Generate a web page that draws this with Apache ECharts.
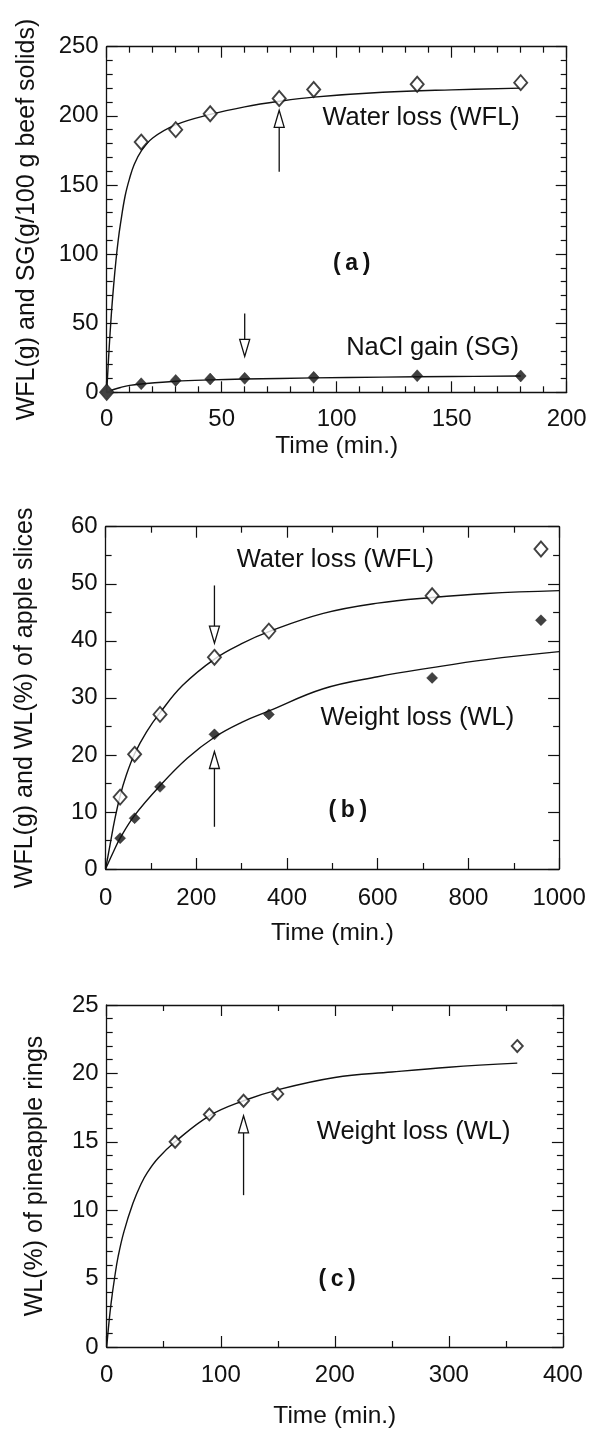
<!DOCTYPE html>
<html>
<head>
<meta charset="utf-8">
<script src="https://cdn.jsdelivr.net/npm/echarts@6/dist/echarts.min.js"></script>
<style>
  html, body { margin: 0; padding: 0; background: #fff; }
  #chart { width: 595px; height: 1430px; }
</style>
</head>
<body>
<div id="chart"></div>
<script>
// ---- Panel (a): beef, water loss and NaCl gain ----
const aWflTime = [0, 15, 30, 45, 75, 90, 135, 180];
const aWfl     = [0, 181, 190, 201.5, 212.5, 219, 222.8, 224];
const aSgTime  = [0, 15, 30, 45, 60, 90, 135, 180];
const aSg      = [0, 6.2, 8.6, 9.6, 10.1, 10.8, 12, 11.8];
// fitted curves
const aWflFitTime = [0, 1, 2, 3, 4, 5, 6, 8, 10, 12, 15, 20, 30, 45, 60, 75, 90, 120, 150, 180];
const aWflFit     = [0, 30, 56, 77, 95, 110, 122, 142, 155, 165, 174.5, 184, 193.5, 201, 206.5, 210.5, 213.5, 217, 218.8, 220];
const aSgFitTime  = [0, 3, 6, 10, 15, 30, 45, 60, 90, 120, 150, 180];
const aSgFit      = [0, 2, 3.5, 5, 6, 8, 9, 9.6, 10.4, 11, 11.4, 11.8];

// ---- Panel (b): apple slices ----
const bTime = [32, 64, 120, 240, 360, 720, 960];
const bWfl  = [12.6, 20.1, 27.1, 37.1, 41.7, 47.9, 56.1];
const bWl   = [5.4, 8.9, 14.4, 23.6, 27.1, 33.5, 43.6];
const bWflFitTime = [0, 10, 20, 32, 45, 64, 90, 120, 170, 240, 300, 360, 480, 600, 720, 840, 1000];
const bWflFit     = [0, 4.3, 8.6, 12.8, 16.3, 20.2, 24, 27.4, 32.2, 36.8, 39.5, 41.6, 44.8, 46.6, 47.6, 48.3, 48.8];
const bWlFitTime  = [0, 16, 32, 64, 120, 180, 240, 300, 360, 480, 600, 720, 840, 1000];
const bWlFit      = [0, 2.8, 5.4, 9.4, 14.6, 19.4, 23.1, 25.7, 27.7, 31.6, 33.7, 35.3, 36.7, 38.1];

// ---- Panel (c): pineapple rings ----
const cTime = [60, 90, 120, 150, 360];
const cWl   = [15, 17, 18, 18.5, 22];
const cWlFitTime = [0, 2, 4, 7, 10, 15, 23, 30, 36, 45, 60, 90, 120, 150, 200, 250, 300, 360];
const cWlFit     = [0, 1.8, 3.3, 5.1, 6.6, 8.4, 10.5, 11.9, 12.8, 13.8, 15.0, 16.9, 18.0, 18.8, 19.7, 20.1, 20.45, 20.75];

// equilibrium arrows: [time, tail value, tip value]
const aArrows = [[75, 159.5, 204], [60, 57, 26]];
const bArrows = [[240, 49.7, 39.6], [240, 7.4, 20.6]];
const cArrows = [[120, 11.1, 16.9]];

// in-plot captions: [time, value]
const aNotePos = [[136.7, 198.4], [141.7, 31.8], [106.5, 93.3]];
const aNoteTxt = ['Water loss (WFL)', 'NaCl gain (SG)', '(a)'];
const bNotePos = [[506.7, 54.2], [687.3, 26.4], [534, 10.3]];
const bNoteTxt = ['Water loss (WFL)', 'Weight loss (WL)', '(b)'];
const cNotePos = [[269.1, 15.75], [202, 4.93]];
const cNoteTxt = ['Weight loss (WL)', '(c)'];

const INK = '#111';
const FONT = 'Liberation Sans, Arial, Helvetica, sans-serif';

const zip = (xs, ys) => xs.map((x, i) => [x, ys[i]]);
const plain = v => String(v);

function xAxes(grid, max, interval, minorSplit, nameGap, labelMargin) {
  const common = {
    type: 'value', gridIndex: grid, min: 0, max: max, interval: interval,
    splitLine: { show: false },
    axisLine: { show: true, onZero: false, lineStyle: { color: INK, width: 1.3 } },
    axisTick: { show: true, inside: true, length: 11, lineStyle: { color: INK, width: 1.2 } },
    minorTick: { show: true, splitNumber: minorSplit, length: 6, lineStyle: { color: INK, width: 1.2 } },
    minorSplitLine: { show: false }
  };
  return [
    Object.assign({}, common, {
      position: 'bottom',
      name: 'Time (min.)', nameLocation: 'middle', nameGap: nameGap,
      nameTextStyle: { color: INK, fontFamily: FONT, fontSize: 24.5 },
      axisLabel: { color: INK, fontFamily: FONT, fontSize: 24, margin: labelMargin,
                   formatter: plain, showMinLabel: true, showMaxLabel: true }
    }),
    Object.assign({}, common, { position: 'top', axisLabel: { show: false } })
  ];
}

function yAxes(grid, max, interval, minorSplit, name, nameGap) {
  const common = {
    type: 'value', gridIndex: grid, min: 0, max: max, interval: interval,
    splitLine: { show: false },
    axisLine: { show: true, onZero: false, lineStyle: { color: INK, width: 1.3 } },
    axisTick: { show: true, inside: true, length: 11, lineStyle: { color: INK, width: 1.2 } },
    minorTick: { show: true, splitNumber: minorSplit, length: 6, lineStyle: { color: INK, width: 1.2 } },
    minorSplitLine: { show: false }
  };
  return [
    Object.assign({}, common, {
      position: 'left',
      name: name, nameLocation: 'middle', nameGap: nameGap,
      nameTextStyle: { color: INK, fontFamily: FONT, fontSize: 25 },
      axisLabel: { color: INK, fontFamily: FONT, fontSize: 24, margin: 8,
                   formatter: plain, showMinLabel: true, showMaxLabel: true }
    }),
    Object.assign({}, common, { position: 'right', axisLabel: { show: false } })
  ];
}

function fitLine(xi, yi, xs, ys) {
  return {
    type: 'line', xAxisIndex: xi, yAxisIndex: yi, data: zip(xs, ys),
    smooth: 0.4, showSymbol: false, symbol: 'none',
    lineStyle: { color: INK, width: 1.4 }, silent: true, z: 2
  };
}

function points(xi, yi, xs, ys, hollow, size) {
  return {
    type: 'scatter', xAxisIndex: xi, yAxisIndex: yi, data: zip(xs, ys),
    symbol: 'diamond', symbolSize: size,
    itemStyle: hollow
      ? { color: '#fff', borderColor: INK, borderWidth: 1.9 }
      : { color: INK, borderColor: INK, borderWidth: 0.5 },
    silent: true, z: hollow ? 3 : 4
  };
}

function arrows(xi, yi, list) {
  return {
    type: 'custom', xAxisIndex: xi, yAxisIndex: yi, data: list, silent: true, z: 5,
    encode: { x: 0, y: [1, 2] },
    renderItem: function (params, api) {
      const tail = api.coord([api.value(0), api.value(1)]);
      const tip = api.coord([api.value(0), api.value(2)]);
      const dir = tip[1] < tail[1] ? -1 : 1;
      const headLen = 17, halfW = 5;
      const baseY = tip[1] - dir * headLen;
      return {
        type: 'group',
        children: [
          { type: 'line', shape: { x1: tail[0], y1: tail[1], x2: tip[0], y2: baseY },
            style: { stroke: INK, lineWidth: 1.3 } },
          { type: 'polygon',
            shape: { points: [[tip[0], tip[1]], [tip[0] - halfW, baseY], [tip[0] + halfW, baseY]] },
            style: { fill: '#fff', stroke: INK, lineWidth: 1.3 } }
        ]
      };
    }
  };
}

function notes(xi, yi, pos, txt) {
  return {
    type: 'custom', xAxisIndex: xi, yAxisIndex: yi, data: pos, silent: true, z: 6,
    renderItem: function (params, api) {
      const p = api.coord([api.value(0), api.value(1)]);
      const s = txt[params.dataIndex];
      const bold = s.charAt(0) === '(';
      return {
        type: 'text',
        style: {
          x: p[0], y: p[1], text: bold ? s.split('').join('\u2009') : s,
          fill: INK, fontFamily: FONT, fontSize: bold ? 23 : 25.5,
          fontWeight: bold ? 'bold' : 'normal',
          textAlign: 'center', textVerticalAlign: 'middle'
        }
      };
    }
  };
}

const option = {
  backgroundColor: '#fff',
  animation: false,
  grid: [
    { left: 106.7, top: 46.7, width: 460, height: 345.6 },
    { left: 105.6, top: 526.7, width: 453.5, height: 342.3 },
    { left: 106.7, top: 1005, width: 456.2, height: 342.7 }
  ],
  xAxis: [].concat(
    xAxes(0, 200, 50, 5, 41, 15),
    xAxes(1, 1000, 200, 2, 52, 17),
    xAxes(2, 400, 100, 2, 57, 16)
  ),
  yAxis: [].concat(
    yAxes(0, 250, 50, 5, 'WFL(g) and SG(g/100 g beef solids)', 67),
    yAxes(1, 60, 10, 2, 'WFL(g) and WL(%) of apple slices', 68),
    yAxes(2, 25, 5, 5, 'WL(%) of pineapple rings', 59)
  ),
  series: [
    fitLine(0, 0, aWflFitTime, aWflFit),
    fitLine(0, 0, aSgFitTime, aSgFit),
    points(0, 0, aWflTime, aWfl, true, [13, 15]),
    points(0, 0, aSgTime, aSg, false, [11, 12]),
    arrows(0, 0, aArrows),
    notes(0, 0, aNotePos, aNoteTxt),

    fitLine(2, 2, bWflFitTime, bWflFit),
    fitLine(2, 2, bWlFitTime, bWlFit),
    points(2, 2, bTime, bWfl, true, [13, 15]),
    points(2, 2, bTime, bWl, false, [11, 11]),
    arrows(2, 2, bArrows),
    notes(2, 2, bNotePos, bNoteTxt),

    fitLine(4, 4, cWlFitTime, cWlFit),
    points(4, 4, cTime, cWl, true, [11, 12]),
    arrows(4, 4, cArrows),
    notes(4, 4, cNotePos, cNoteTxt)
  ]
};

const chart = echarts.init(document.getElementById('chart'), null, { renderer: 'canvas' });
chart.setOption(option);
</script>
</body>
</html>
